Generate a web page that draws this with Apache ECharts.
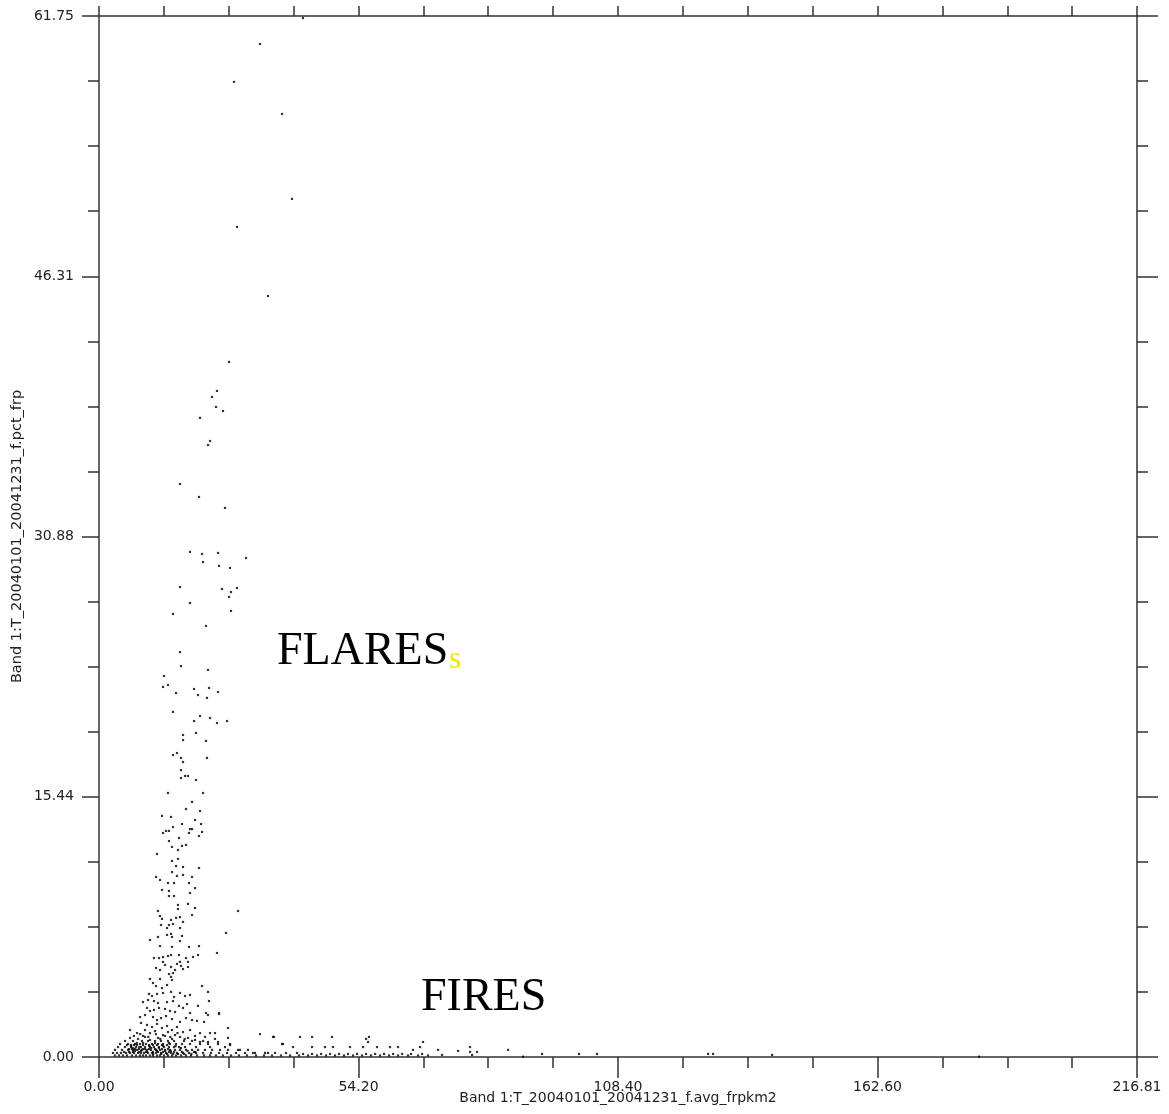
<!DOCTYPE html>
<html>
<head>
<meta charset="utf-8">
<script src="https://cdn.jsdelivr.net/npm/echarts@6/dist/echarts.min.js"></script>
<style>html,body{margin:0;padding:0;background:#fff;}#c{width:1169px;height:1114px;}</style>
</head>
<body>
<div id="c"></div>
<script>
// ---- axis ranges and tick labels ----
const xMax = 216.81;
const yMax = 61.75;
const xTickLabels = ['0.00', '54.20', '108.40', '162.60', '216.81'];
const yTickLabels = ['0.00', '15.44', '30.88', '46.31', '61.75'];
const xName = 'Band 1:T_20040101_20041231_f.avg_frpkm2';
const yName = 'Band 1:T_20040101_20041231_f.pct_frp';

// ---- scatter values [avg_frpkm2, pct_frp] ----
const plumeHigh = [
  [42.6,61.63],[33.63,60.09],[28.2,57.84],[38.23,55.94],[40.32,50.90],[28.83,49.24],[35.30,45.14],
  [27.16,41.23],[24.65,39.51],[23.61,39.15],[24.44,38.56],[25.90,38.32],[21.10,37.91],[23.19,36.54],
  [22.77,36.30],[16.92,33.99],[20.89,33.22],[26.32,32.57],
  [19.01,29.96],[21.52,29.84],[21.73,29.36],[24.86,29.90],[25.07,29.13],[27.37,29.01],[30.71,29.60],
  [16.92,27.88],[25.69,27.76],[27.57,27.58],[27.16,27.29],[28.83,27.82],[19.01,26.93],[15.46,26.28],
  [27.57,26.46],[22.35,25.57],[16.92,24.02],[17.13,23.19],[22.77,22.96],[13.58,22.60],[13.37,21.95],
  [14.41,22.07],[16.09,21.59],[19.85,21.83],[22.98,21.89],[20.68,21.47],[22.56,21.30],[24.86,21.65],
  [15.46,20.47],[19.85,19.93],[21.10,20.23],[23.19,20.11],[24.65,19.81],[26.74,19.93],[17.55,19.10],
  [17.55,18.80],[20.26,19.22],[22.35,18.75],[15.46,17.91],[16.29,18.03],[17.13,17.74],[17.55,17.50],
  [22.56,17.74],[17.13,17.02],[17.13,16.55],[17.97,16.67],[18.59,16.67],[20.26,16.43],[14.41,15.66],
  [21.73,15.66],[19.43,15.13],[18.17,14.71],[21.10,14.59],[13.16,14.30],[15.04,14.24],[20.05,14.06],
  [17.34,13.82],[21.31,13.82],[15.46,13.64],[14.62,13.41],[14.00,13.41],[13.37,13.29],[19.01,13.52],
  [19.43,13.52],[18.80,13.29],[20.89,13.11],[16.71,12.99],[21.52,13.35]
];
const plumeMid = [
  [14.62,12.81],[15.25,12.46],[17.34,12.52],[18.17,12.58],[16.50,12.28],[12.12,12.04],[15.25,11.63],
  [16.50,11.75],[17.55,11.27],[20.89,11.21],[16.09,11.33],[15.25,10.97],[16.29,10.74],[17.55,10.80],
  [19.43,10.68],[11.91,10.68],[12.74,10.50],[14.41,10.32],[15.67,10.32],[18.80,10.32],[20.05,10.02],
  [13.16,9.91],[14.62,9.85],[19.01,9.73],[14.62,9.55],[15.67,9.55],[16.50,9.02],[18.59,9.08],
  [20.05,8.84],[16.50,8.78],[12.32,8.66],[29.04,8.66],[12.74,8.36],[13.16,8.19],[15.04,8.13],
  [16.09,8.25],[16.92,8.30],[17.55,8.01],[19.43,8.42],[12.95,7.83],[14.62,7.83],[15.46,7.89],
  [16.92,7.65],[14.21,7.65],[26.53,7.36],[12.32,7.12],[14.21,7.24],[15.04,7.30],[15.25,7.12],
  [17.34,7.18],[10.65,6.94],[16.92,6.88],[12.74,6.58],[15.25,6.53],[18.80,6.53],[20.89,6.58],
  [24.65,6.17],[11.49,5.87],[12.53,5.87],[13.37,5.93],[14.41,5.99],[15.04,6.05],[16.71,6.05],
  [18.17,5.87],[19.64,5.93],[20.68,6.05],[13.37,5.64],[13.79,5.46],[16.29,5.52],[16.92,5.64],
  [18.59,5.34],[11.91,5.28],[12.74,5.16],[15.04,5.34],[15.88,5.16],[17.13,5.40],[17.55,5.22],
  [18.59,5.64],[14.62,4.92],[15.04,4.75],[15.25,4.57],[15.46,4.98],[10.65,4.63],[12.74,4.63],
  [11.28,4.39],[11.91,4.21],[14.21,4.27],[13.16,4.09],[21.52,4.21],[22.77,3.86],[19.01,3.68],
  [10.45,3.74],[11.07,3.62],[12.12,3.74],[13.37,3.80],[15.04,3.86],[15.67,3.56],[16.92,3.80],
  [17.97,3.62],[20.68,3.03],[22.98,3.32],[9.19,3.26],[10.24,3.38],[11.49,3.32],[12.32,3.20],
  [14.21,3.26],[15.46,3.32],[16.71,3.03],[18.38,3.14],[10.03,2.91],[10.65,2.73],[11.49,2.79],
  [12.53,2.91],[13.79,2.85],[14.83,2.73],[15.88,2.67],[17.55,2.91],[19.01,2.61],[22.35,2.61],
  [25.07,2.61],[20.47,2.14],[8.56,2.37],[9.61,2.49],[11.28,2.37],[12.12,2.19],[12.95,2.31],
  [14.00,2.43],[15.25,2.25],[16.92,2.08],[18.17,2.31],[19.43,2.19],[8.77,2.02],[10.03,1.90],
  [11.07,1.78],[12.12,1.96],[13.16,1.72],[14.21,1.84],[15.25,1.60],[16.29,1.78],[17.55,1.48],
  [21.10,1.42],[23.19,1.42],[24.23,1.42],[26.95,1.72],[33.63,1.36],[36.35,1.19],[38.23,0.77],
  [22.77,2.49],[25.07,2.55],[21.94,2.08]
];
const baseCluster = [
  [9.61,1.60],[10.65,1.42],[11.70,1.54],[13.37,1.30],[14.41,1.48],[15.88,1.30],[19.01,1.60],
  [20.05,1.25],[7.94,1.42],[9.19,1.25],[6.48,1.60],
  [6.48,1.13],[8.15,1.07],[9.61,1.19],[10.65,1.01],[12.32,1.13],[13.79,1.25],[15.25,1.07],
  [16.92,1.19],[18.59,1.13],[20.05,1.01],[22.14,1.19],[24.23,1.07],[26.95,1.13],
  [5.43,0.95],[7.10,0.95],[8.98,0.95],[10.24,0.95],[11.70,0.95],[12.95,0.95],[14.41,0.95],
  [15.67,0.95],[17.76,0.95],[19.43,0.95],[21.73,0.95],[21.10,0.89],[22.77,0.89],[24.86,0.89],
  [4.39,0.77],[6.06,0.77],[7.52,0.77],[8.56,0.77],[9.82,0.77],[11.07,0.77],[12.32,0.77],[13.37,0.77],
  [14.83,0.77],[16.09,0.77],[17.34,0.77],[19.01,0.77],[21.10,0.77],[22.77,0.77],[24.86,0.77],[27.37,0.77],
  [5.85,0.71],[6.68,0.71],[7.31,0.71],[7.94,0.71],[9.19,0.71],[10.45,0.71],[11.28,0.71],[12.12,0.71],
  [13.16,0.71],[14.21,0.71],[27.37,0.71],
  [3.97,0.59],[5.43,0.59],[6.68,0.59],[7.73,0.59],[8.77,0.59],[9.61,0.59],[10.65,0.59],[11.49,0.59],
  [12.53,0.59],[13.58,0.59],[14.62,0.59],[15.67,0.59],[16.71,0.59],[17.97,0.59],[20.26,0.59],
  [23.19,0.59],[26.32,0.59],
  [6.27,0.47],[6.89,0.47],[7.52,0.47],[8.36,0.47],[9.19,0.47],[10.45,0.47],[11.70,0.47],[13.16,0.47],[14.41,0.47],
  [3.34,0.42],[4.80,0.42],[6.06,0.42],[7.10,0.42],[7.94,0.42],[8.98,0.42],[10.03,0.42],[10.86,0.42],
  [11.91,0.42],[12.74,0.42],[13.79,0.42],[14.83,0.42],[15.88,0.42],[16.92,0.42],[18.17,0.42],
  [19.43,0.42],[20.68,0.42],[22.14,0.42],[23.61,0.42],[25.28,0.42],[26.95,0.42],[29.04,0.42],
  [29.45,0.42],[31.13,0.42],
  [5.22,0.30],[6.27,0.30],[7.10,0.30],[8.36,0.30],[9.82,0.30],[11.28,0.30],[12.32,0.30],[13.37,0.30],
  [14.62,0.30],[15.67,0.30],[17.34,0.30],[19.85,0.30],
  [2.92,0.24],[3.76,0.24],[4.60,0.24],[5.64,0.24],[6.48,0.24],[7.31,0.24],[8.15,0.24],[8.77,0.24],
  [9.40,0.24],[10.24,0.24],[11.07,0.24],[11.91,0.24],[12.95,0.24],[14.00,0.24],[15.04,0.24],
  [16.29,0.24],[17.55,0.24],[18.80,0.24],[20.26,0.24],[21.73,0.24],[23.40,0.24],[25.07,0.24],
  [26.74,0.24],[28.62,0.24],[30.50,0.24],[32.17,0.24],[32.59,0.24],[34.68,0.24],[35.30,0.24],
  [36.77,0.24],[39.06,0.24],[41.36,0.24],
  [3.34,0.09],[4.18,0.09],[5.01,0.09],[5.85,0.09],[6.89,0.09],[7.73,0.09],[8.56,0.09],[9.19,0.09],
  [9.82,0.09],[10.65,0.09],[11.28,0.09],[12.12,0.09],[12.74,0.09],[13.58,0.09],[14.41,0.09],
  [15.25,0.09],[16.09,0.09],[17.13,0.09],[18.17,0.09],[19.22,0.09],[20.47,0.09],[21.94,0.09],
  [23.19,0.09],[24.44,0.09],[25.90,0.09],[27.57,0.09],[29.24,0.09],[30.91,0.09],[32.80,0.09],
  [34.47,0.09],[36.14,0.09],[38.02,0.09],[39.90,0.09],[41.78,0.09],[43.66,0.09],[45.54,0.09],
  [47.42,0.09],[49.30,0.09],[51.18,0.09],[53.06,0.09],[54.94,0.09],[56.82,0.09],[58.70,0.09],
  [60.58,0.09],[62.46,0.09],[64.55,0.09],[66.64,0.09],[68.73,0.09],
  // dense dark clump near the origin
  [6.7,0.65],[7.1,0.53],[7.5,0.36],[7.9,0.83],[8.4,0.59],[8.8,0.36],[9.2,0.83],[9.6,0.47],
  [10.0,0.30],[10.5,0.65],[10.9,0.53],[11.3,0.18],[11.7,0.83],[12.1,0.36],[12.5,0.53],[13.0,0.18],
  [13.4,0.65],[13.8,0.36],[14.2,0.18],[14.6,0.83],[15.0,0.36],[15.5,0.18],[16.0,0.65],[16.5,0.18],
  [17.1,0.53],[17.8,0.18],[18.5,0.36],[19.3,0.18],[20.1,0.30],[7.3,1.25],[8.6,1.36],[10.3,1.19],
  [11.9,1.36],[12.8,1.07],[14.9,1.19],[16.4,1.42],[17.9,1.07]
];
const fireTail = [
  [42.61,0.18],[44.50,0.18],[46.38,0.18],[48.26,0.18],[50.14,0.18],[52.02,0.18],[53.90,0.18],
  [55.78,0.18],[57.66,0.18],[59.54,0.18],[61.42,0.18],[63.30,0.18],[65.18,0.18],[67.48,0.18],
  [41.99,1.19],[48.67,1.19],[56.40,1.19],[56.19,0.89],[44.50,1.19],[36.56,1.19],[55.78,1.07],
  [38.44,0.77],[40.53,0.59],[44.50,0.59],[47.21,0.59],[48.88,0.59],[52.43,0.59],[55.15,0.59],
  [58.07,0.59],[60.79,0.59],[62.46,0.59],[67.06,0.59],[77.50,0.59],[67.68,0.89],[65.59,0.42],
  [70.82,0.42],[75.00,0.36],[77.50,0.30],[78.96,0.30],[85.44,0.42],[88.57,0.02],[71.65,0.12],
  [77.92,0.12],[92.54,0.18],[100.27,0.18],[104.03,0.18],[127.22,0.18],[128.26,0.18],
  [140.59,0.12],[183.83,0.02]
];

const axisColor = '#333';
const lab = { fontFamily: 'DejaVu Sans', fontSize: 14, color: '#222' };

const chart = echarts.init(document.getElementById('c'), null, { renderer: 'canvas' });
chart.setOption({
  animation: false,
  backgroundColor: '#ffffff',
  grid: { left: 99, right: 32, top: 16, bottom: 57, containLabel: false, outerBoundsMode: 'none' },
  xAxis: [
    {
      type: 'value', position: 'bottom', min: 0, max: xMax, interval: xMax / 4,
      axisLine: { show: true, onZero: false, lineStyle: { color: axisColor, width: 1.5 } },
      axisTick: { show: true, inside: false, length: 21, lineStyle: { color: axisColor, width: 1.5 } },
      minorTick: { show: true, splitNumber: 4, length: 11, lineStyle: { color: axisColor, width: 1.5 } },
      splitLine: { show: false }, minorSplitLine: { show: false },
      axisLabel: Object.assign({ margin: 23, formatter: (v) => xTickLabels[Math.round(v / (xMax / 4))] }, lab),
      name: xName, nameLocation: 'middle', nameGap: 34, nameMoveOverlap: false,
      nameTextStyle: Object.assign({}, lab)
    },
    {
      type: 'value', position: 'top', min: 0, max: xMax, interval: xMax / 16,
      axisLine: { show: true, onZero: false, lineStyle: { color: axisColor, width: 1.5 } },
      axisTick: { show: true, inside: false, length: 10, lineStyle: { color: axisColor, width: 1.5 } },
      splitLine: { show: false }, axisLabel: { show: false }
    }
  ],
  yAxis: [
    {
      type: 'value', position: 'left', min: 0, max: yMax, interval: yMax / 4,
      axisLine: { show: true, onZero: false, lineStyle: { color: axisColor, width: 1.5 } },
      axisTick: { show: true, inside: false, length: 17, lineStyle: { color: axisColor, width: 1.5 } },
      minorTick: { show: true, splitNumber: 4, length: 11, lineStyle: { color: axisColor, width: 1.5 } },
      splitLine: { show: false }, minorSplitLine: { show: false },
      axisLabel: Object.assign({ margin: 25, formatter: (v) => yTickLabels[Math.round(v / (yMax / 4))] }, lab),
      name: yName, nameLocation: 'middle', nameGap: 74, nameRotate: 90, nameMoveOverlap: false,
      nameTextStyle: Object.assign({}, lab, { fontSize: 14.5 })
    },
    {
      type: 'value', position: 'right', min: 0, max: yMax, interval: yMax / 4,
      axisLine: { show: true, onZero: false, lineStyle: { color: axisColor, width: 1.5 } },
      axisTick: { show: true, inside: false, length: 21, lineStyle: { color: axisColor, width: 1.5 } },
      minorTick: { show: true, splitNumber: 4, length: 11, lineStyle: { color: axisColor, width: 1.5 } },
      splitLine: { show: false }, minorSplitLine: { show: false },
      axisLabel: { show: false }
    }
  ],
  series: [plumeHigh, plumeMid, baseCluster, fireTail].map((d) => ({
    type: 'scatter', xAxisIndex: 0, yAxisIndex: 0, data: d,
    symbol: 'rect', symbolSize: 2.2, silent: true,
    itemStyle: { color: '#000' }
  })),
  graphic: [
    { type: 'text', left: 277, top: 629, style: { text: 'FLARES', font: '46px "Liberation Serif"', fill: '#000' } },
    { type: 'text', left: 449, top: 644, style: { text: 's', font: '31px "Liberation Serif"', fill: '#f2e600' } },
    { type: 'text', left: 421, top: 975, style: { text: 'FIRES', font: '46px "Liberation Serif"', fill: '#000' } }
  ]
});
</script>
</body>
</html>
